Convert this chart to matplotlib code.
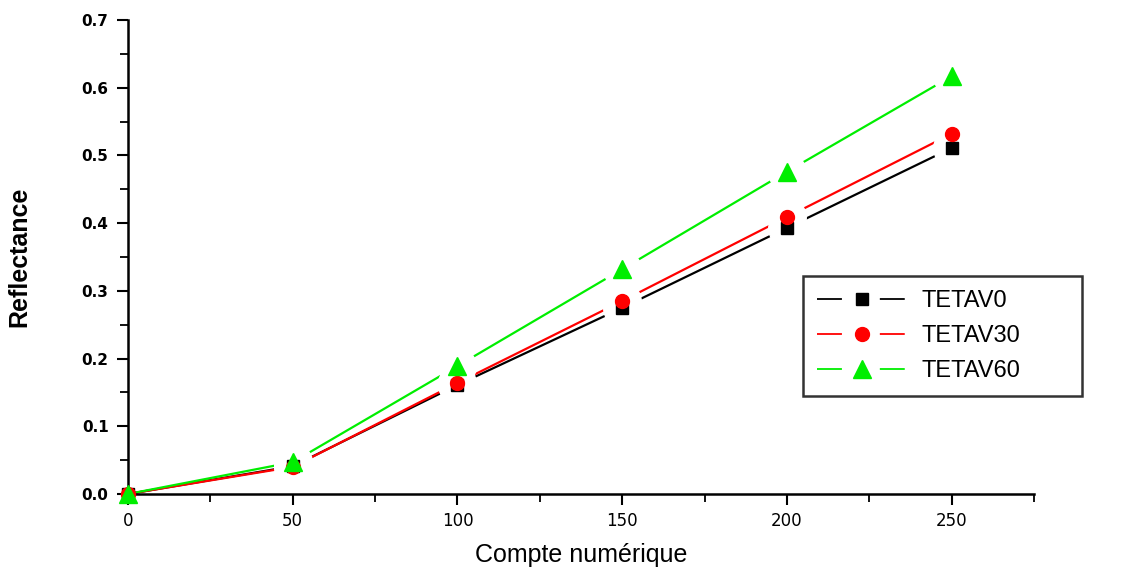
import matplotlib
matplotlib.use("Agg")
import matplotlib.pyplot as plt
from matplotlib.ticker import MultipleLocator, FormatStrFormatter
from matplotlib.lines import Line2D

plt.rcParams['font.family'] = ['Liberation Sans', 'DejaVu Sans']

x = [0, 50, 100, 150, 200, 250]
tetav0 = [0.0, 0.041, 0.161, 0.275, 0.393, 0.511]
tetav30 = [0.0, 0.040, 0.164, 0.285, 0.409, 0.532]
tetav60 = [0.0, 0.047, 0.189, 0.332, 0.476, 0.617]
labels = ["TETAV0", "TETAV30", "TETAV60"]

fig = plt.figure(figsize=(11.46, 5.75), dpi=100)
ax = fig.add_axes([0.1117, 0.1409, 0.7906, 0.8243])

series = [(tetav0, 'black', 's', 9), (tetav30, '#ff0000', 'o', 10), (tetav60, '#00ee00', '^', 13)]
handles = []
for (vals, col, mk, ms), lab in zip(series, labels):
    ax.plot(x, vals, color=col, lw=1.6, zorder=2)
    ax.plot(x, vals, linestyle='none', marker='o', ms=27, color='white',
            markevery=slice(1, None), zorder=3)
    ax.plot(x, vals, linestyle='none', marker=mk, ms=ms, color=col, zorder=4, clip_on=False)
    hl = Line2D([], [], color=col, lw=1.3, linestyle=(0, (13.8, 21)))
    hm = Line2D([], [], linestyle='none', marker=mk, ms=ms, color=col)
    handles.append((hl, hm))

ax.set_xlim(0, 275)
ax.set_ylim(0, 0.7)
ax.xaxis.set_major_locator(MultipleLocator(50))
ax.xaxis.set_minor_locator(MultipleLocator(25))
ax.yaxis.set_major_locator(MultipleLocator(0.1))
ax.yaxis.set_minor_locator(MultipleLocator(0.05))
ax.yaxis.set_major_formatter(FormatStrFormatter('%.1f'))
ax.spines['top'].set_visible(False)
ax.spines['right'].set_visible(False)
ax.spines['left'].set_linewidth(1.8)
ax.spines['bottom'].set_linewidth(1.8)
ax.tick_params(which='major', direction='out', length=8, width=1.5)
ax.tick_params(which='minor', direction='out', length=6, width=1.3)
ax.tick_params(axis='x', pad=5)
ax.tick_params(axis='y', pad=6)
for t in ax.get_xticklabels():
    t.set_family('DejaVu Sans')
    t.set_fontsize(12)
for t in ax.get_yticklabels():
    t.set_family('DejaVu Sans')
    t.set_fontsize(11)
    t.set_fontweight('bold')

ax.set_xlabel("Compte numérique", fontsize=18, labelpad=9)
ax.set_ylabel("Reflectance", fontsize=18, fontweight='bold', labelpad=36)

x0 = 803 / 1146
w = (1082 - 803) / 1146
y_top = 1 - 276 / 575
h = (393 - 276) / 575
leg = fig.legend(handles, labels, loc='upper left', bbox_to_anchor=(x0, y_top - h, w, h),
                 bbox_transform=fig.transFigure, mode='expand',
                 fontsize=17, frameon=True, fancybox=False, edgecolor='black',
                 handlelength=3.8, handletextpad=0.6, numpoints=1, borderpad=0.6,
                 labelspacing=0.55, borderaxespad=0)
leg.get_frame().set_linewidth(1.8)

fig.savefig("out.png", dpi=100)
